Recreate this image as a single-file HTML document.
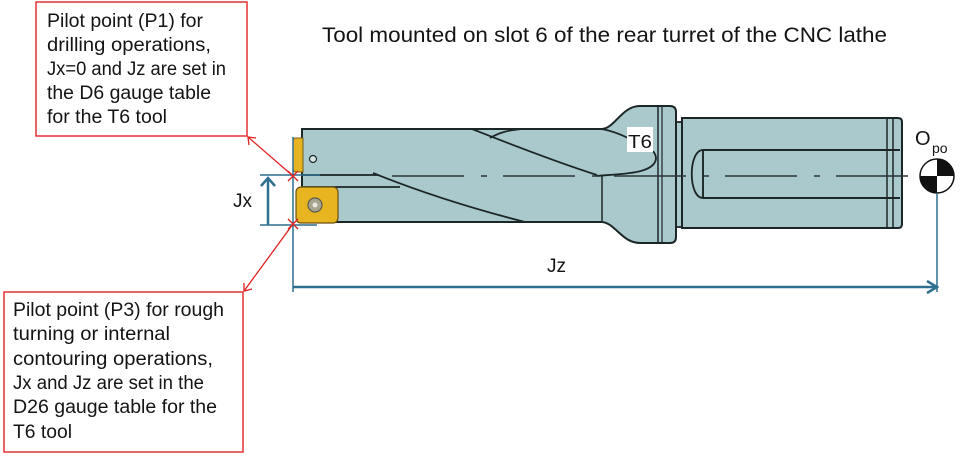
<!DOCTYPE html>
<html><head><meta charset="utf-8"><style>
html,body{margin:0;padding:0;background:#fff;}
svg{display:block;}
text{font-family:"Liberation Sans",sans-serif;fill:#141414;}
</style></head><body>
<svg width="960" height="458" viewBox="0 0 960 458" xmlns="http://www.w3.org/2000/svg">
<rect width="960" height="458" fill="#fff"/>
<!-- title -->
<text x="322" y="42" font-size="21" textLength="565" lengthAdjust="spacingAndGlyphs">Tool mounted on slot 6 of the rear turret of the CNC lathe</text>

<!-- box 1 -->
<rect x="36" y="2" width="211" height="134" fill="#fff" stroke="#e23232" stroke-width="1.5"/>
<g font-size="19">
<text x="47" y="27" textLength="156" lengthAdjust="spacingAndGlyphs">Pilot point (P1) for</text>
<text x="47" y="51" textLength="164" lengthAdjust="spacingAndGlyphs">drilling operations,</text>
<text x="47" y="75" textLength="179" lengthAdjust="spacingAndGlyphs">Jx=0 and Jz are set in</text>
<text x="47" y="99" textLength="164" lengthAdjust="spacingAndGlyphs">the D6 gauge table</text>
<text x="47" y="123" textLength="120" lengthAdjust="spacingAndGlyphs">for the T6 tool</text>
</g>

<!-- box 2 -->
<rect x="4" y="292" width="239" height="160" fill="#fff" stroke="#e23232" stroke-width="1.5"/>
<g font-size="19">
<text x="13" y="316" textLength="211" lengthAdjust="spacingAndGlyphs">Pilot point (P3) for rough</text>
<text x="13" y="340" textLength="157" lengthAdjust="spacingAndGlyphs">turning or internal</text>
<text x="13" y="365" textLength="200" lengthAdjust="spacingAndGlyphs">contouring operations,</text>
<text x="13" y="389" textLength="191" lengthAdjust="spacingAndGlyphs">Jx and Jz are set in the</text>
<text x="13" y="413" textLength="204" lengthAdjust="spacingAndGlyphs">D26 gauge table for the</text>
<text x="13" y="438" textLength="59" lengthAdjust="spacingAndGlyphs">T6 tool</text>
</g>

<!-- shank -->
<rect x="675" y="122" width="8" height="105" fill="#a9c9cc" stroke="#1c2626" stroke-width="1.8"/>
<path d="M682,118 H898 Q902,118 902,122 V224 Q902,228 898,228 H682 Z" fill="#a9c9cc" stroke="#1c2626" stroke-width="2"/>
<line x1="887" y1="118" x2="887" y2="228" stroke="#1c2626" stroke-width="1.5"/>
<line x1="893" y1="118" x2="893" y2="228" stroke="#1c2626" stroke-width="1.5"/>
<path d="M703,150 H900 M703,198 H900" stroke="#1c2626" stroke-width="2" fill="none"/>
<path d="M703,150 C688,150 688,198 703,198 Z" fill="#a9c9cc" stroke="#1c2626" stroke-width="1.8"/>
<line x1="703" y1="150" x2="703" y2="198" stroke="#1c2626" stroke-width="1.5"/>

<!-- body + flange -->
<path d="M302,129 H602 C615,128 622,106 640,106 H670 Q676,106 676,112 V237 Q676,243 670,243 H640 C622,243 615,223 602,222 H302 Z" fill="#a9c9cc" stroke="#1c2626" stroke-width="2"/>
<line x1="658" y1="106" x2="658" y2="243" stroke="#1c2626" stroke-width="1.5"/>
<line x1="662" y1="106" x2="662" y2="243" stroke="#1c2626" stroke-width="1.2"/>
<line x1="602" y1="176" x2="602" y2="222" stroke="#1c2626" stroke-width="1.5"/>

<!-- flutes -->
<g fill="none" stroke="#1c2626" stroke-width="1.8">
<path d="M303,175 H378"/>
<path d="M303,187 H400"/>
<path d="M373,173 C420,192 470,208 525,222"/>
<path d="M472,129 C500,140 550,160 597,175"/>
<path d="M490,138 C500,132 510,130 522,129"/>
<path d="M602,129 C612,131 620,134 628,138"/>
<path d="M653,151 C660,160 655,170 630,173 C615,175 605,175 597,176"/>
</g>

<!-- center line -->
<line x1="392" y1="176" x2="908" y2="176" stroke="#2b3535" stroke-width="1.5" stroke-dasharray="72 17 6 16"/>

<!-- inserts -->
<path d="M296,138 H303 V172 H296 Q293,172 293,168 V142 Q293,138 296,138 Z" fill="#e6b422" stroke="#7a5c10" stroke-width="1"/>
<circle cx="313" cy="159" r="3.5" fill="#d8e6e6" stroke="#1c2626" stroke-width="1.2"/>
<rect x="296" y="187" width="42" height="36" rx="5" fill="#e8b520" stroke="#6a5010" stroke-width="1.2"/>
<circle cx="315" cy="205" r="7" fill="#a9a690" stroke="#5a5a50" stroke-width="1.2"/>
<circle cx="315" cy="205" r="2.5" fill="#e8e8e0"/>

<!-- T6 label -->
<rect x="627" y="127" width="26" height="25" fill="#fff"/>
<text x="628" y="148" font-size="18" textLength="24" lengthAdjust="spacingAndGlyphs">T6</text>

<!-- Opo -->
<text x="915" y="145" font-size="20">O</text>
<text x="932" y="153" font-size="14">po</text>
<circle cx="937" cy="176" r="17" fill="#fff" stroke="#111" stroke-width="1.5"/>
<path d="M937,176 V159 A17,17 0 0 1 954,176 Z" fill="#111"/>
<path d="M937,176 V193 A17,17 0 0 1 920,176 Z" fill="#111"/>

<!-- dimension lines -->
<g stroke="#2f6f8f" fill="none">
<line x1="293" y1="137" x2="293" y2="292" stroke-width="1.5"/>
<line x1="937" y1="193" x2="937" y2="292" stroke-width="1.5"/>
<line x1="293" y1="287" x2="936" y2="287" stroke-width="2.5"/>
<polyline points="927,281 937,287 927,293" stroke-width="2.5"/>
<line x1="260" y1="175" x2="320" y2="175" stroke-width="1.5"/>
<line x1="260" y1="225" x2="317" y2="225" stroke-width="1.5"/>
<line x1="268" y1="178" x2="268" y2="225" stroke-width="2.5"/>
<polyline points="261,186 268,178 275,186" stroke-width="2.5"/>
</g>
<text x="233" y="207" font-size="19">Jx</text>
<text x="547" y="272" font-size="19">Jz</text>

<!-- red leaders -->
<g stroke="#e02020" stroke-width="1.3" fill="none">
<line x1="293" y1="176" x2="248" y2="137"/>
<polyline points="249,145 248,137 256,138"/>
<line x1="293" y1="224" x2="244" y2="291"/>
<polyline points="244,283 244,291 252,289"/>
<path d="M288,171 L298,181 M298,171 L288,181"/>
<path d="M288,219 L298,229 M298,219 L288,229"/>
</g>
</svg>
</body></html>
